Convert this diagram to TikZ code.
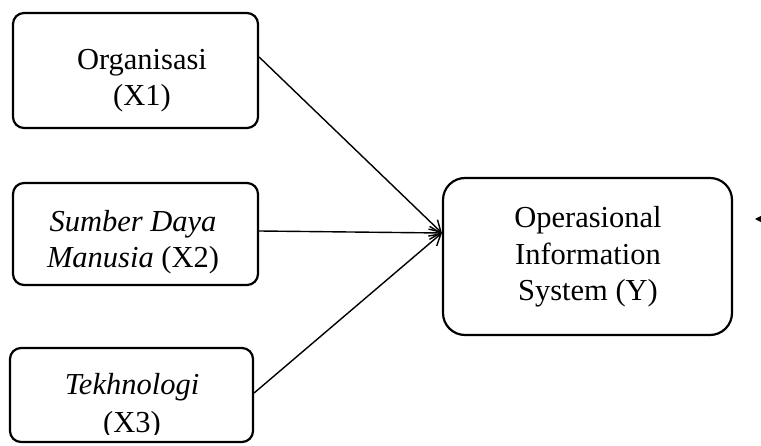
\documentclass[tikz,border=0pt]{standalone}
\usepackage{fontspec}
\setmainfont{Liberation Serif}
\usetikzlibrary{arrows.meta}
\begin{document}
\begin{tikzpicture}[x=1pt,y=-1pt,
  box/.style={draw=black,line width=2.2pt,rounded corners=11pt,inner sep=0pt},
  bigbox/.style={box,rounded corners=22pt},
  txt/.style={anchor=base,inner sep=0pt,font=\fontsize{30.5}{36}\selectfont},
  conn/.style={line width=1.4pt,-{Straight Barb[length=11pt,width=13pt,line width=1.4pt]}},
  err/.style={line width=1.4pt,-{Triangle[length=8pt,width=8pt]}}]
\clip (0,0) rectangle (761,446);
\fill[white] (0,0) rectangle (761,446);
% boxes
\node[box,minimum width=245pt,minimum height=115pt] (b1) at (135.5,70.5) {};
\node[box,minimum width=245pt,minimum height=102pt] (b2) at (135.5,234) {};
\node[box,minimum width=243pt,minimum height=94pt] (b3) at (131.5,395) {};
\node[bigbox,minimum width=289pt,minimum height=157pt] (by) at (587.5,256.5) {};
% texts
\node[txt] (t1a) at (142,70) {Organisasi};
\node[txt] (t1b) at (142,106) {(X1)};
\node[txt] (t2a) at (133,232) {\itshape Sumber Daya};
\node[txt] (t2b) at (133,268) {\itshape Manusia\/\upshape{} (X2)};
\node[txt] (t3a) at (132,395) {\itshape Tekhnologi};
\begin{scope}
\clip (0,0) rectangle (761,435);
\node[txt] (t3b) at (132,432) {(X3)};
\end{scope}
\node[txt] (tya) at (588,228) {Operasional};
\node[txt] (tyb) at (588,265) {Information};
\node[txt] (tyc) at (588,301) {System (Y)};
% connectors
\coordinate (tip) at (by.west |- 0,233);
\draw[conn] (b1.east |- 0,57) -- (tip);
\draw[conn] (b2.east |- 0,231) -- (tip);
\draw[conn] (b3.east |- 0,393) -- (tip);
\coordinate (efrom) at (800,219);
\coordinate (eto) at (755,219);
\draw[err] (efrom) -- (eto);
\end{tikzpicture}
\end{document}
